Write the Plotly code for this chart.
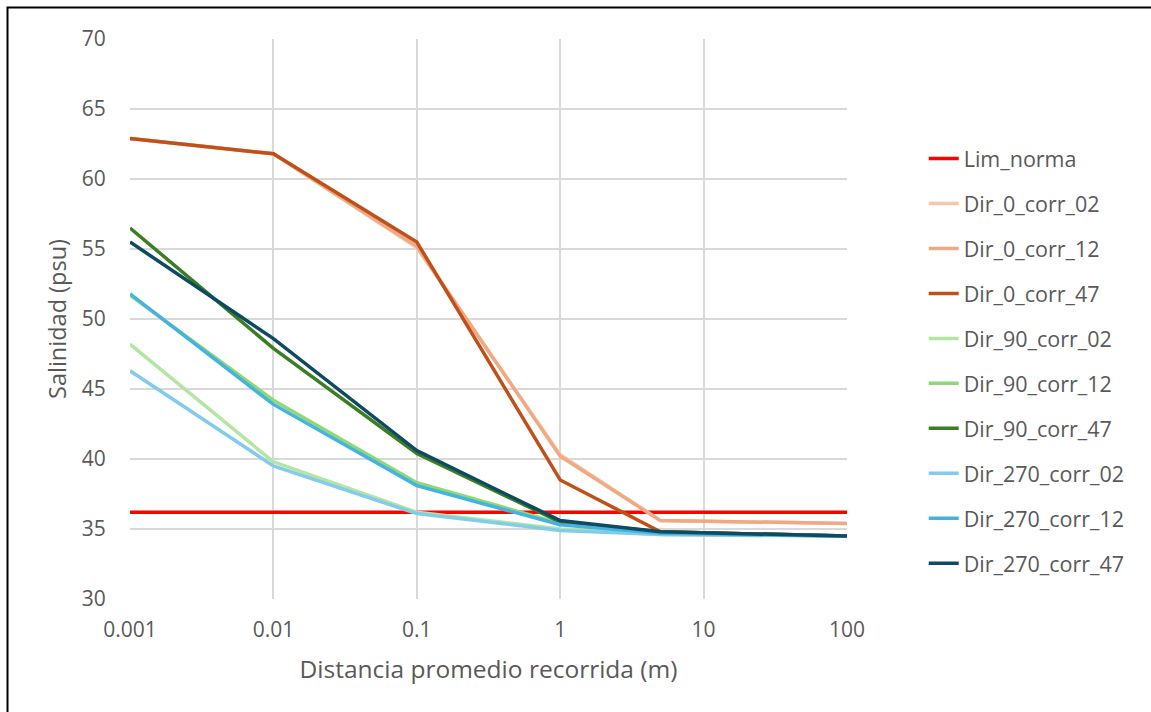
import plotly.graph_objects as go

distancia = [0.001, 0.01, 0.1, 1, 5, 100]

lim_norma = [36.2, 36.2, 36.2, 36.2, 36.2, 36.2]
dir_0_corr_02 = [62.9, 61.8, 55.1, 40.3, 35.6, 35.4]
dir_0_corr_12 = [62.9, 61.8, 55.2, 40.2, 35.6, 35.4]
dir_0_corr_47 = [62.9, 61.8, 55.5, 38.5, 34.8, 34.5]
dir_90_corr_02 = [48.2, 39.8, 36.2, 35.0, 34.6, 34.5]
dir_90_corr_12 = [51.7, 44.2, 38.3, 35.4, 34.7, 34.5]
dir_90_corr_47 = [56.5, 47.9, 40.4, 35.5, 34.8, 34.5]
dir_270_corr_02 = [46.3, 39.5, 36.1, 34.9, 34.6, 34.5]
dir_270_corr_12 = [51.8, 43.9, 38.1, 35.3, 34.7, 34.5]
dir_270_corr_47 = [55.5, 48.6, 40.6, 35.6, 34.8, 34.5]

x_ticks = [0.001, 0.01, 0.1, 1, 10, 100]
x_ticklabels = ["0.001", "0.01", "0.1", "1", "10", "100"]
y_ticks = [30, 35, 40, 45, 50, 55, 60, 65, 70]

series = [
    ("Lim_norma", lim_norma, "#ff0000"),
    ("Dir_0_corr_02", dir_0_corr_02, "#f7c7ac"),
    ("Dir_0_corr_12", dir_0_corr_12, "#f1a983"),
    ("Dir_0_corr_47", dir_0_corr_47, "#c0501a"),
    ("Dir_90_corr_02", dir_90_corr_02, "#b4e5a2"),
    ("Dir_90_corr_12", dir_90_corr_12, "#8ed973"),
    ("Dir_90_corr_47", dir_90_corr_47, "#3b7d23"),
    ("Dir_270_corr_02", dir_270_corr_02, "#83cbeb"),
    ("Dir_270_corr_12", dir_270_corr_12, "#44b3e1"),
    ("Dir_270_corr_47", dir_270_corr_47, "#0e4a62"),
]

FONT = "Open Sans"
GREY = "#595959"

fig = go.Figure()
for name, vals, color in series:
    fig.add_trace(go.Scatter(
        x=distancia, y=vals, name=name, mode="lines",
        line=dict(color=color, width=3.5),
        legendgroup=name,
    ))

fig.update_layout(
    width=1151, height=712,
    margin=dict(l=130, r=304, t=39, b=113),
    paper_bgcolor="white", plot_bgcolor="white",
    font=dict(family=FONT, color=GREY, size=21),
    legend=dict(
        x=1.107, xanchor="left", y=0.823, yanchor="top",
        font=dict(family=FONT, color=GREY, size=21.5),
        traceorder="grouped", tracegroupgap=14,
        bgcolor="rgba(0,0,0,0)",
    ),
    showlegend=True,
)

fig.update_xaxes(
    type="log", range=[-3, 2],
    tickvals=x_ticks, ticktext=x_ticklabels,
    showgrid=True, gridcolor="#d9d9d9", gridwidth=2,
    showline=False, zeroline=False,
    ticks="outside", ticklen=12, tickcolor="rgba(0,0,0,0)",
    tickfont=dict(family=FONT, color=GREY, size=21),
    title=dict(text="Distancia promedio recorrida (m)", standoff=18,
               font=dict(family=FONT, color=GREY, size=24.5)),
)
fig.update_yaxes(
    range=[30, 70], tickvals=y_ticks,
    showgrid=True, gridcolor="#d9d9d9", gridwidth=2,
    showline=False, zeroline=False,
    ticks="outside", ticklen=19, tickcolor="rgba(0,0,0,0)",
    tickfont=dict(family=FONT, color=GREY, size=21),
    title=dict(text="Salinidad (psu)", standoff=8,
               font=dict(family=FONT, color=GREY, size=23.5)),
)

# outer chart frame (left & top edges visible in reference)
fig.add_shape(type="rect", xref="paper", yref="paper",
              x0=(7.5 - 130) / 717, x1=1.6, y0=-0.6, y1=(599 - 7.5) / 560,
              line=dict(color="black", width=2), fillcolor="rgba(0,0,0,0)",
              layer="above")

fig.write_html("out.html", config={"displayModeBar": False},
               post_script="document.body.style.margin='0';")
